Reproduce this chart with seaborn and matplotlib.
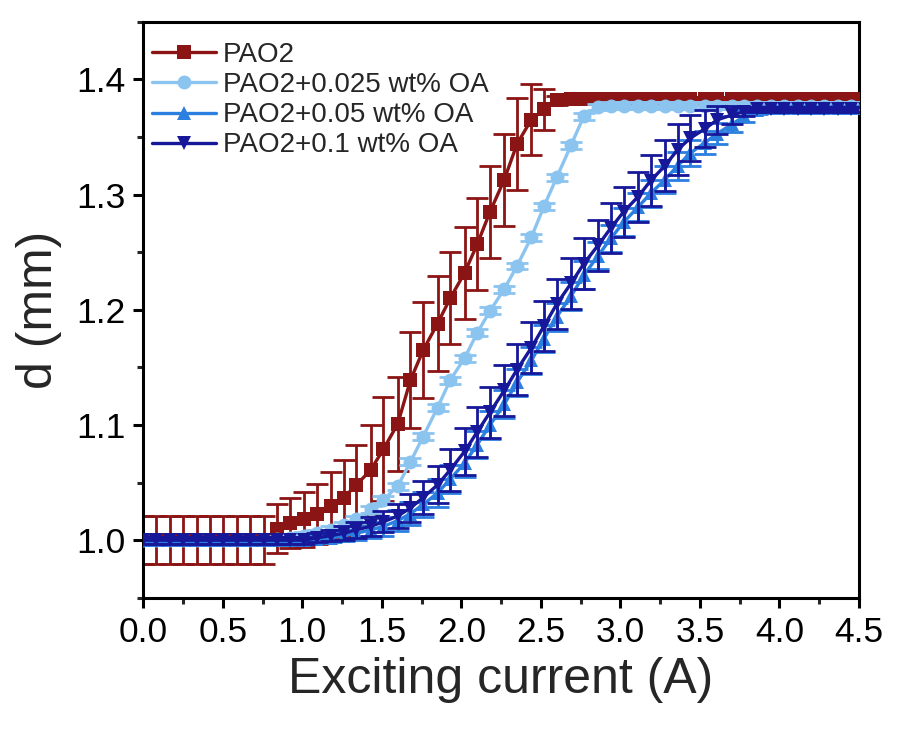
import numpy as np
import pandas as pd
import matplotlib
matplotlib.use("Agg")
import matplotlib.pyplot as plt
from matplotlib.ticker import MultipleLocator
import seaborn as sns

# exciting current (A)
current = [0.00, 0.08, 0.17, 0.25, 0.34, 0.42, 0.50, 0.59, 0.67, 0.76,
           0.84, 0.92, 1.01, 1.09, 1.18, 1.26, 1.34, 1.43, 1.51, 1.60,
           1.68, 1.76, 1.85, 1.93, 2.02, 2.10, 2.18, 2.27, 2.35, 2.44,
           2.52, 2.60, 2.69, 2.77, 2.86, 2.94, 3.02, 3.11, 3.19, 3.28,
           3.36, 3.44, 3.53, 3.61, 3.70, 3.78, 3.86, 3.95, 4.03, 4.12,
           4.20, 4.28, 4.37, 4.45, 4.54]

# d (mm) for each sample
pao2 = [1.000, 1.000, 1.000, 1.000, 1.000, 1.000, 1.000, 1.000, 1.000, 1.000,
        1.010, 1.015, 1.018, 1.023, 1.030, 1.037, 1.048, 1.061, 1.079, 1.101,
        1.139, 1.165, 1.188, 1.210, 1.232, 1.257, 1.285, 1.313, 1.344, 1.365,
        1.374, 1.382, 1.383, 1.383, 1.383, 1.383, 1.383, 1.383, 1.383, 1.383,
        1.383, 1.383, 1.383, 1.383, 1.383, 1.383, 1.383, 1.383, 1.383, 1.383,
        1.383, 1.383, 1.383, 1.383, 1.383]
pao2_err = [0.021, 0.021, 0.021, 0.021, 0.021, 0.021, 0.021, 0.021, 0.021, 0.021,
            0.021, 0.022, 0.024, 0.026, 0.029, 0.033, 0.035, 0.039, 0.045, 0.041,
            0.042, 0.042, 0.041, 0.040, 0.040, 0.040, 0.040, 0.040, 0.040, 0.031,
            0.018, 0.004, 0.002, 0.002, 0.002, 0.002, 0.002, 0.002, 0.002, 0.002,
            0.002, 0.002, 0.002, 0.002, 0.002, 0.002, 0.002, 0.002, 0.002, 0.002,
            0.002, 0.002, 0.002, 0.002, 0.002]

oa025 = [1.000, 1.000, 1.000, 1.000, 1.000, 1.000, 1.000, 1.000, 1.000, 1.000,
         1.001, 1.002, 1.004, 1.006, 1.009, 1.013, 1.018, 1.027, 1.035, 1.047,
         1.068, 1.090, 1.115, 1.139, 1.158, 1.180, 1.199, 1.218, 1.238, 1.263,
         1.290, 1.315, 1.343, 1.368, 1.376, 1.377, 1.377, 1.377, 1.377, 1.377,
         1.377, 1.377, 1.377, 1.377, 1.377, 1.377, 1.377, 1.377, 1.377, 1.377,
         1.377, 1.377, 1.377, 1.377, 1.377]
oa025_err = [0.003] * 55

oa05 = [1.000, 1.000, 1.000, 1.000, 1.000, 1.000, 1.000, 1.000, 1.000, 1.000,
        1.000, 1.000, 1.000, 1.001, 1.002, 1.004, 1.006, 1.009, 1.012, 1.017,
        1.023, 1.031, 1.041, 1.053, 1.067, 1.083, 1.100, 1.118, 1.137, 1.156,
        1.175, 1.194, 1.212, 1.230, 1.247, 1.262, 1.276, 1.289, 1.301, 1.313,
        1.325, 1.336, 1.345, 1.353, 1.361, 1.368, 1.373, 1.375, 1.375, 1.375,
        1.375, 1.375, 1.375, 1.375, 1.375]
oa05_err = [0.002, 0.002, 0.002, 0.002, 0.002, 0.002, 0.002, 0.002, 0.002, 0.002,
            0.002, 0.002, 0.002, 0.003, 0.004, 0.005, 0.006, 0.007, 0.008, 0.009,
            0.010, 0.011, 0.012, 0.012, 0.012, 0.012, 0.012, 0.012, 0.012, 0.012,
            0.012, 0.012, 0.012, 0.012, 0.012, 0.012, 0.012, 0.012, 0.012, 0.012,
            0.012, 0.011, 0.010, 0.009, 0.007, 0.005, 0.003, 0.002, 0.002, 0.002,
            0.002, 0.002, 0.002, 0.002, 0.002]

oa1 = [1.000, 1.000, 1.000, 1.000, 1.000, 1.000, 1.000, 1.000, 1.000, 1.000,
       1.000, 1.000, 1.000, 1.002, 1.004, 1.006, 1.009, 1.012, 1.016, 1.021,
       1.028, 1.037, 1.048, 1.061, 1.077, 1.094, 1.111, 1.130, 1.148, 1.167,
       1.186, 1.205, 1.223, 1.240, 1.256, 1.271, 1.285, 1.298, 1.312, 1.325,
       1.339, 1.349, 1.357, 1.365, 1.369, 1.372, 1.374, 1.374, 1.374, 1.374,
       1.374, 1.374, 1.374, 1.374, 1.374]
oa1_err = [0.003, 0.003, 0.003, 0.003, 0.003, 0.003, 0.003, 0.003, 0.003, 0.003,
           0.003, 0.003, 0.003, 0.004, 0.005, 0.006, 0.007, 0.008, 0.009, 0.010,
           0.012, 0.014, 0.016, 0.018, 0.020, 0.022, 0.022, 0.022, 0.022, 0.022,
           0.022, 0.022, 0.022, 0.022, 0.022, 0.022, 0.022, 0.022, 0.022, 0.022,
           0.022, 0.020, 0.016, 0.012, 0.008, 0.004, 0.002, 0.002, 0.002, 0.002,
           0.002, 0.002, 0.002, 0.002, 0.002]

labels = ['PAO2', 'PAO2+0.025 wt% OA', 'PAO2+0.05 wt% OA', 'PAO2+0.1 wt% OA']
colors = ['#8B1414', '#8CC4F0', '#2A7FDF', '#17179A']
markers = ['s', 'o', '^', 'v']
values = [pao2, oa025, oa05, oa1]
errors = [pao2_err, oa025_err, oa05_err, oa1_err]

sns.set_theme(style="ticks")
plt.rcParams['font.family'] = ['Liberation Sans', 'DejaVu Sans']

fig, ax = plt.subplots(figsize=(9.07, 7.51), dpi=100)
fig.subplots_adjust(left=0.158, right=0.947, bottom=0.204, top=0.971)

for k in range(4):
    # error bars first, then line + markers on top
    ax.errorbar(current, values[k], yerr=errors[k], fmt='none',
                ecolor=colors[k], elinewidth=2, capsize=8, capthick=2,
                zorder=2 + 2 * k)
    sns.lineplot(x=current, y=values[k], ax=ax, color=colors[k],
                 marker=markers[k], markersize=10, markeredgewidth=0,
                 linewidth=2.4, label=labels[k], zorder=3 + 2 * k)

ax.set_xlim(0, 4.5)
ax.set_ylim(0.95, 1.45)
ax.xaxis.set_major_locator(MultipleLocator(0.5))
ax.xaxis.set_minor_locator(MultipleLocator(0.25))
ax.yaxis.set_major_locator(MultipleLocator(0.1))
ax.yaxis.set_minor_locator(MultipleLocator(0.05))
ax.xaxis.set_major_formatter(plt.FormatStrFormatter('%.1f'))
ax.yaxis.set_major_formatter(plt.FormatStrFormatter('%.1f'))

for s in ax.spines.values():
    s.set_linewidth(2.2)
    s.set_color('black')
ax.tick_params(which='major', direction='out', length=7, width=2.2,
               labelsize=25.5, pad=6, colors='black')
ax.tick_params(which='minor', direction='out', length=4, width=2.2)

ax.set_xlabel('Exciting current (A)', fontsize=36, labelpad=6)
ax.set_ylabel('d (mm)', fontsize=36, labelpad=10)

ax.legend(loc='upper left', bbox_to_anchor=(0.012, 0.965), frameon=False,
          fontsize=20, borderpad=0, borderaxespad=0, labelspacing=0.15,
          handlelength=2.3, handletextpad=0.25)

plt.savefig('out.png', dpi=100)
